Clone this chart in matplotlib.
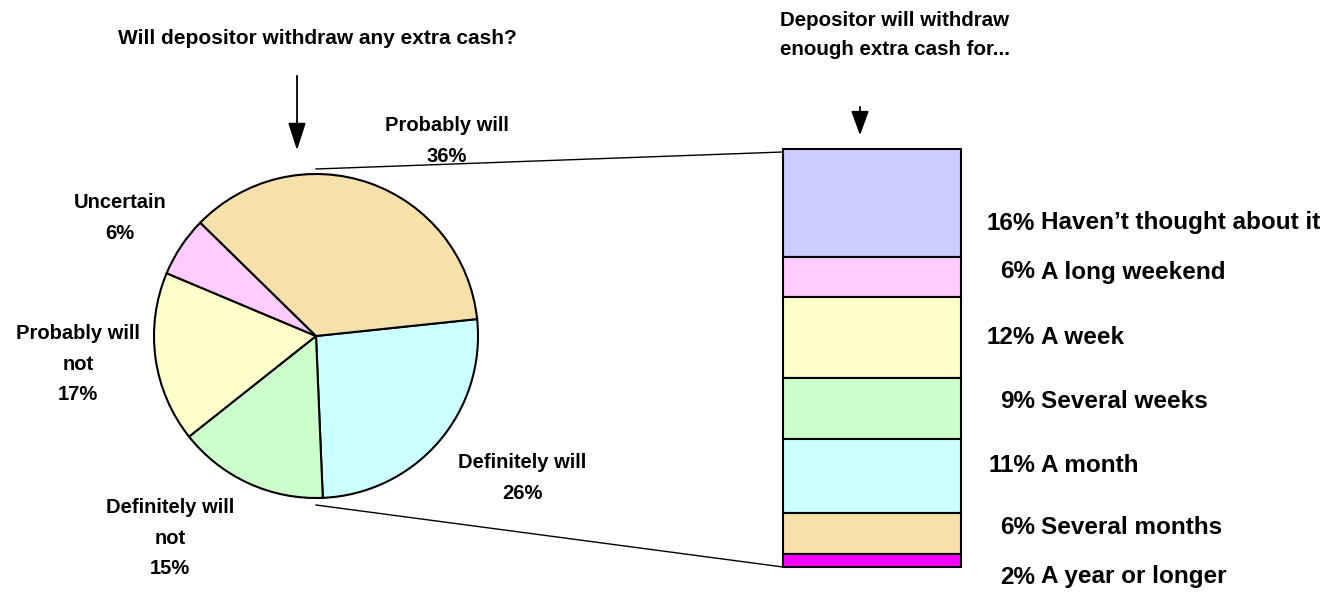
import matplotlib
matplotlib.use("Agg")
import matplotlib.pyplot as plt
import numpy as np

plt.rcParams['font.family'] = ['Liberation Sans', 'DejaVu Sans']
plt.rcParams['font.weight'] = 'bold'

# pie data (clockwise from the right edge)
pie_labels = ["Definitely will", "Definitely will\nnot", "Probably will\nnot",
              "Uncertain", "Probably will"]
pie_values = [26, 15, 17, 6, 36]
pie_colors = ["#CCFFFF", "#CCFFCC", "#FFFFCC", "#FFCCFF", "#F7E1AB"]

# stacked bar data (top to bottom)
bar_labels = ["Haven\u2019t thought about it", "A long weekend", "A week",
              "Several weeks", "A month", "Several months", "A year or longer"]
bar_values = [16, 6, 12, 9, 11, 6, 2]
bar_colors = ["#CCCCFF", "#FFCCFF", "#FFFFCC", "#CCFFCC", "#CCFFFF",
              "#F7E1AB", "#FF00FF"]

W, H = 1332, 592
fig = plt.figure(figsize=(W/100, H/100), dpi=100)
ax = fig.add_axes([0, 0, 1, 1])

def fy(y):
    return H - y

# pie
cx, cy, r = 316, 336, 162
ax.pie(pie_values, colors=pie_colors, startangle=6, counterclock=False,
       center=(cx, fy(cy)), radius=r,
       wedgeprops=dict(edgecolor="black", linewidth=1.5))

pie_lab_pos = [(522, 478), (170, 538), (78, 364), (120, 218), (447, 141)]
for lab, v, (x, y) in zip(pie_labels, pie_values, pie_lab_pos):
    ax.text(x, fy(y), f"{lab}\n{v}%", ha="center", va="center",
            fontsize=14.5, fontweight="bold", linespacing=1.78)

# stacked bar
bx0, bx1, btop, bbot = 783, 961, 149, 567
scale = (bbot - btop) / sum(bar_values)
vals = np.array(bar_values) * scale
tops = btop + np.concatenate([[0], np.cumsum(vals)[:-1]])
ax.bar([(bx0 + bx1) / 2] * len(vals), vals, bottom=fy(tops + vals),
       width=bx1 - bx0, color=bar_colors, edgecolor="black", linewidth=1.5)

lab_y = [223, 272, 337, 402, 465, 527, 577]
for lab, v, y in zip(bar_labels, bar_values, lab_y):
    ax.text(1035, fy(y), f"{v}%", ha="right", va="center", fontsize=17.5,
            fontweight="bold")
    ax.text(1041, fy(y), lab, ha="left", va="center", fontsize=17.5,
            fontweight="bold")

# connector lines
ax.plot([cx, bx0], [fy(169), fy(152)], color="black", lw=1)
ax.plot([cx, bx0], [fy(505), fy(567)], color="black", lw=1)

# titles and arrows
ax.text(317, fy(38), "Will depositor withdraw any extra cash?", ha="center",
        va="center", fontsize=15, fontweight="bold")
ax.text(895, fy(35), "Depositor will withdraw\nenough extra cash for...",
        ha="center", va="center", fontsize=14.8, fontweight="bold",
        linespacing=1.65)
ax.annotate("", xy=(297, fy(153)), xytext=(297, fy(73)),
            arrowprops=dict(arrowstyle="-|>,head_width=0.55,head_length=1.7",
                            color="black", lw=1.3))
ax.annotate("", xy=(860, fy(138)), xytext=(860, fy(104)),
            arrowprops=dict(arrowstyle="-|>,head_width=0.55,head_length=1.5",
                            color="black", lw=1.3))

ax.set_xlim(0, W)
ax.set_ylim(0, H)
ax.set_aspect("auto")
ax.axis("off")

fig.savefig("out.png", dpi=100)
